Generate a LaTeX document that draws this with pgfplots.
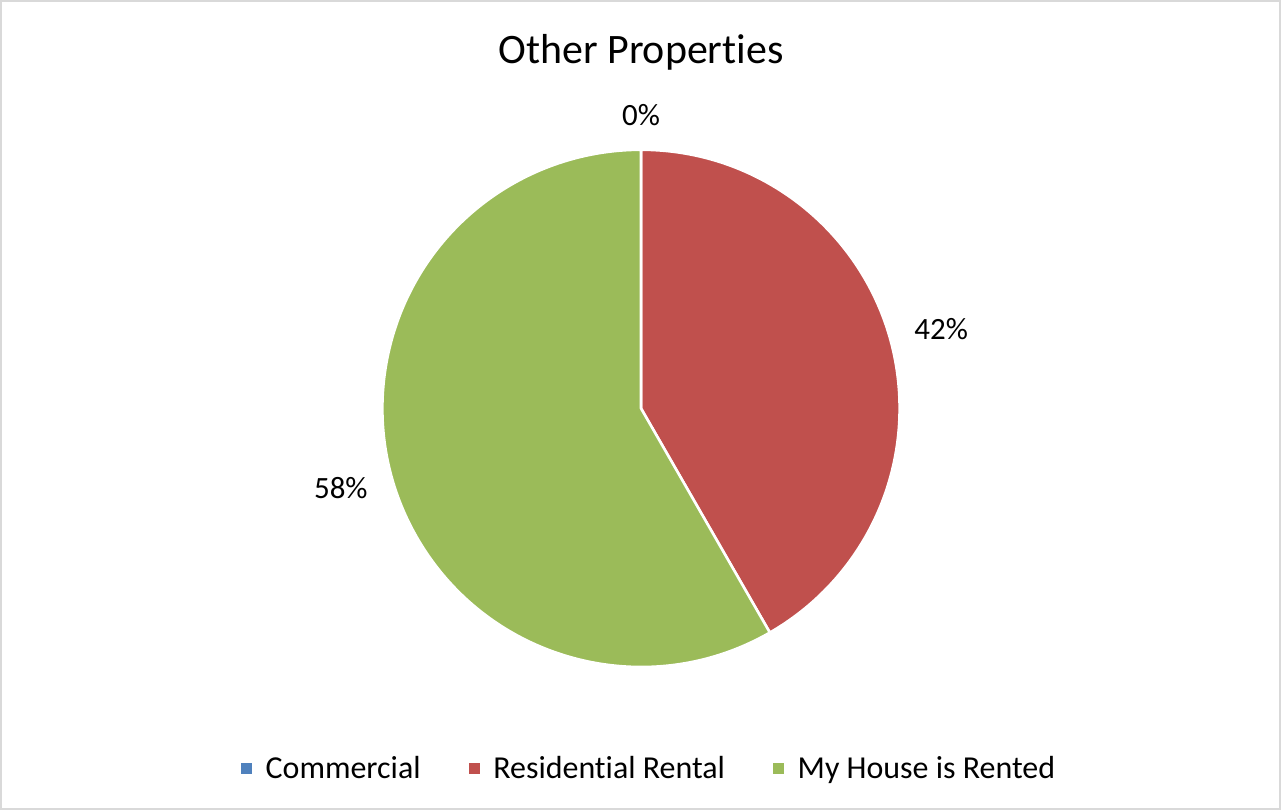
\documentclass[border=0pt]{standalone}
\usepackage{fontspec}
\setmainfont{Carlito}[Ligatures=NoCommon]
\usepackage{pgfplots}
\usepackage{pgfplotstable}
\pgfplotsset{compat=1.18}
\definecolor{pie0}{HTML}{4F81BD}
\definecolor{pie1}{HTML}{C0504D}
\definecolor{pie2}{HTML}{9BBB59}
\definecolor{frame}{HTML}{D9D9D9}

\pgfplotstableread[col sep=comma]{
label,value
Commercial,0
Residential Rental,41.7
My House is Rented,58.3
}\piedata

% one pixel of the reference = 0.5pt
\def\pieR{129.5pt}
\def\pieL{141.5pt}

\newcommand\computepie{%
  \gdef\pietotal{0}%
  \foreach \i in {0,...,2}{%
    \pgfplotstablegetelem{\i}{value}\of\piedata
    \pgfmathparse{\pietotal+\pgfplotsretval}\xdef\pietotal{\pgfmathresult}}%
  \gdef\piecum{0}%
  \foreach \i in {0,...,2}{%
    \pgfplotstablegetelem{\i}{value}\of\piedata
    \let\v\pgfplotsretval
    \pgfmathparse{90-360*(\piecum/\pietotal)}%
    \expandafter\xdef\csname pieS\i\endcsname{\pgfmathresult}%
    \pgfmathparse{\piecum+\v}\xdef\piecum{\pgfmathresult}%
    \pgfmathparse{90-360*(\piecum/\pietotal)}%
    \expandafter\xdef\csname pieE\i\endcsname{\pgfmathresult}%
    \pgfmathparse{(\csname pieS\i\endcsname+\csname pieE\i\endcsname)/2}%
    \expandafter\xdef\csname pieM\i\endcsname{\pgfmathresult}%
    \pgfmathparse{mod(\csname pieM\i\endcsname+180+720,360)}%
    \expandafter\xdef\csname pieA\i\endcsname{\pgfmathresult}%
    \pgfmathparse{int(round(100*(\v/\pietotal)))}%
    \expandafter\xdef\csname pieP\i\endcsname{\pgfmathresult}%
  }}

\begin{document}
\begin{tikzpicture}
\computepie
\begin{axis}[
  width=640.5pt, height=404.5pt, scale only axis,
  xmin=0, xmax=1281, ymin=0, ymax=809,
  hide axis, clip=false,
  legend columns=3,
  legend style={draw=none, fill=none, font=\fontsize{16}{19}\selectfont,
    at={(axis cs:650,40)}, anchor=center,
    /tikz/every odd column/.append style={column sep=5pt},
    /tikz/every even column/.append style={column sep=22pt}},
  legend cell align=left,
]
\draw[frame, line width=1pt] (rel axis cs:0,0) rectangle (rel axis cs:1,1);
\pgfplotsinvokeforeach{0,1,2}{%
  \filldraw[fill=pie#1, draw=white, line width=1.3pt, line join=round]
    (axis cs:641,401) -- ++(\csname pieS#1\endcsname:\pieR)
    arc[start angle=\csname pieS#1\endcsname, end angle=\csname pieE#1\endcsname, radius=\pieR] -- cycle;
  \path (axis cs:641,401) ++(\csname pieM#1\endcsname:\pieL)
    node[anchor=\csname pieA#1\endcsname, inner sep=0pt, font=\fontsize{15.5}{18}\selectfont]
    {\csname pieP#1\endcsname\%};
}
\node[anchor=base, font=\fontsize{21}{25}\selectfont] at (axis cs:641,746) {Other Properties};
\addlegendimage{legend image code/.code={\fill[pie0] (0pt,-2.5pt) rectangle (5pt,2.5pt);}}
\addlegendentry{Commercial}
\addlegendimage{legend image code/.code={\fill[pie1] (0pt,-2.5pt) rectangle (5pt,2.5pt);}}
\addlegendentry{Residential Rental}
\addlegendimage{legend image code/.code={\fill[pie2] (0pt,-2.5pt) rectangle (5pt,2.5pt);}}
\addlegendentry{My House is Rented}
\end{axis}
\end{tikzpicture}
\end{document}
